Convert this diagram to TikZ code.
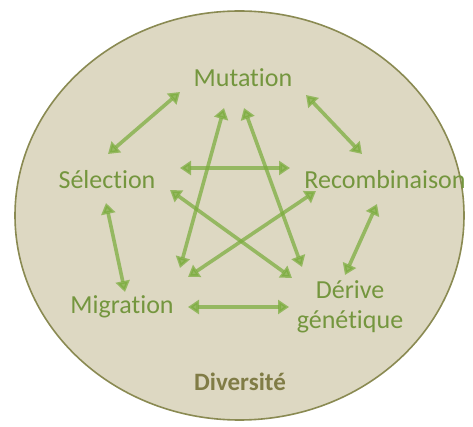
\documentclass[tikz,border=0pt]{standalone}
\usepackage{fontspec}
\setmainfont{Carlito}[Ligatures=NoCommon]
\usetikzlibrary{arrows.meta}
\definecolor{bgfill}{RGB}{221,216,194}
\definecolor{rim}{RGB}{138,138,82}
\definecolor{txtgreen}{RGB}{116,150,62}
\definecolor{arrgreen}{RGB}{122,172,60}
\definecolor{divcol}{RGB}{128,124,70}
\tikzset{
  lbl/.style={text=txtgreen, font=\fontsize{26}{30}\selectfont, inner sep=0pt, align=center},
  dbl/.style={draw=arrgreen, line width=3.6pt, opacity=0.72,
    {Triangle[width=14pt,length=11pt]}-{Triangle[width=14pt,length=11pt]}},
}
\begin{document}
\begin{tikzpicture}[x=1pt,y=-1pt]
\useasboundingbox (0,0) rectangle (473,427);
\draw[fill=bgfill, draw=rim, line width=1.6pt] (239.5,215.5) ellipse [x radius=224.5, y radius=204.5];
\node[lbl] (mut) at (243,78) {Mutation};
\node[lbl] (sel) at (107,180) {Sélection};
\node[lbl] (rec) at (385,180) {Recombinaison};
\node[lbl] (mig) at (122,307) {Migration};
\node[lbl] (der) at (350,307) {Dérive\\génétique};
\node[text=divcol, font=\fontsize{25}{30}\selectfont\bfseries, inner sep=0pt] (div) at (240,382) {Diversité};
\draw[dbl] ([shift={(-63,14)}]mut.center) -- ([shift={(1,-26)}]sel.center);
\draw[dbl] ([shift={(63,17)}]mut.center) -- ([shift={(-23,-26)}]rec.center);
\draw[dbl] ([shift={(73,-12)}]sel.center) -- ([shift={(-95,-12)}]rec.center);
\draw[dbl] ([shift={(-1,23)}]sel.center) -- ([shift={(3,-15)}]mig.center);
\draw[dbl] ([shift={(-8,24)}]rec.center) -- ([shift={(-5,-32)}]der.center);
\draw[dbl] ([shift={(66,0)}]mig.center) -- ([shift={(-61,0)}]der.center);
\draw[dbl] ([shift={(-19,30)}]mut.center) -- ([shift={(58,-39)}]mig.center);
\draw[dbl] ([shift={(1,30)}]mut.center) -- ([shift={(-48,-40)}]der.center);
\draw[dbl] ([shift={(63,10)}]sel.center) -- ([shift={(-58,-29)}]der.center);
\draw[dbl] ([shift={(-69,11)}]rec.center) -- ([shift={(66,-30)}]mig.center);
\end{tikzpicture}
\end{document}
